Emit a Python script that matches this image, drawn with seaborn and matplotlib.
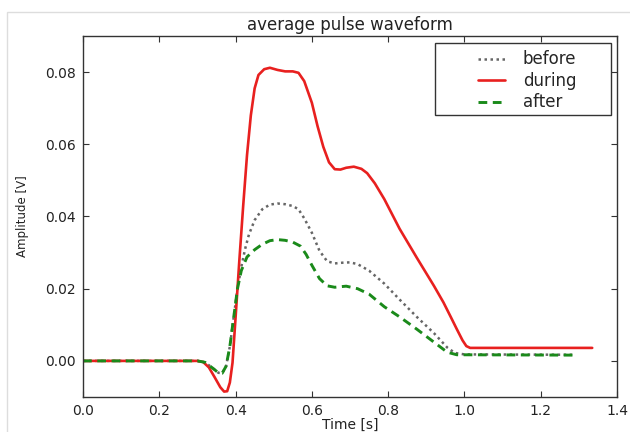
import matplotlib
matplotlib.use("Agg")
import matplotlib.pyplot as plt
from matplotlib.patches import Rectangle
import seaborn as sns

# === DATA ===
t_before = [0.00, 0.30, 0.32, 0.34, 0.355, 0.365, 0.375, 0.385, 0.395, 0.405,
            0.415, 0.425, 0.435, 0.45, 0.47, 0.49, 0.51, 0.53, 0.55, 0.565,
            0.58, 0.60, 0.62, 0.64, 0.66, 0.68, 0.70, 0.72, 0.75, 0.79,
            0.83, 0.875, 0.92, 0.955, 0.975, 1.00, 1.285]
amp_before = [0.0, 0.0, -0.0004, -0.0020, -0.0033, -0.0034, -0.0015, 0.0040, 0.0120, 0.0200,
              0.0260, 0.0310, 0.0350, 0.0390, 0.0420, 0.0433, 0.0436, 0.0434, 0.0429, 0.0420,
              0.0395, 0.0355, 0.0305, 0.0276, 0.0270, 0.0272, 0.0273, 0.0268, 0.0250, 0.0214,
              0.0170, 0.0122, 0.0077, 0.0037, 0.0022, 0.0018, 0.0017]

t_during = [0.00, 0.30, 0.315, 0.33, 0.345, 0.36, 0.37, 0.378, 0.385, 0.392,
            0.40, 0.41, 0.42, 0.43, 0.44, 0.45, 0.46, 0.475, 0.49, 0.51,
            0.53, 0.55, 0.565, 0.58, 0.60, 0.615, 0.63, 0.645, 0.66, 0.675,
            0.69, 0.71, 0.73, 0.745, 0.765, 0.79, 0.83, 0.875, 0.92, 0.945,
            0.965, 0.98, 0.995, 1.005, 1.015, 1.335]
amp_during = [0.0, 0.0, -0.0003, -0.0018, -0.0045, -0.0073, -0.0085, -0.0084, -0.0060, -0.0005,
              0.0120, 0.0280, 0.0430, 0.0570, 0.0680, 0.0755, 0.0792, 0.0808, 0.0812, 0.0806,
              0.0802, 0.0802, 0.0798, 0.0775, 0.0715, 0.0650, 0.0593, 0.0550, 0.0531, 0.0530,
              0.0535, 0.0538, 0.0532, 0.0520, 0.0492, 0.0448, 0.0366, 0.0286, 0.0208, 0.0162,
              0.0120, 0.0088, 0.0057, 0.0041, 0.0036, 0.0036]

t_after = [0.00, 0.30, 0.32, 0.34, 0.355, 0.365, 0.375, 0.385, 0.395, 0.405,
           0.415, 0.43, 0.45, 0.47, 0.49, 0.51, 0.53, 0.55, 0.57, 0.585,
           0.60, 0.62, 0.64, 0.66, 0.69, 0.72, 0.75, 0.79, 0.83, 0.875,
           0.92, 0.955, 0.98, 1.285]
amp_after = [0.0, 0.0, -0.0004, -0.0020, -0.0033, -0.0034, -0.0015, 0.0040, 0.0120, 0.0200,
             0.0250, 0.0288, 0.0308, 0.0323, 0.0333, 0.0336, 0.0334, 0.0329, 0.0318, 0.0295,
             0.0265, 0.0228, 0.0208, 0.0204, 0.0207, 0.0200, 0.0185, 0.0150, 0.0122, 0.0088,
             0.0052, 0.0024, 0.0017, 0.0016]

x_ticks = [0.0, 0.2, 0.4, 0.6, 0.8, 1.0, 1.2, 1.4]
y_ticks = [0.00, 0.02, 0.04, 0.06, 0.08]

# === STYLE ===
sns.set_theme(style="white")
plt.rcParams["font.family"] = ["DejaVu Sans"]
plt.rcParams["axes.edgecolor"] = "#333333"
plt.rcParams["axes.linewidth"] = 1.0

fig = plt.figure(figsize=(6.3, 4.32), dpi=100)
ax = fig.add_axes([83 / 630, 1 - 397 / 432, 534 / 630, 361 / 432])

sns.lineplot(x=t_before, y=amp_before, ax=ax, color="0.4", linestyle=(0, (1, 1.4)), lw=1.8)
sns.lineplot(x=t_during, y=amp_during, ax=ax, color="#e8201f", lw=1.9)
sns.lineplot(x=t_after, y=amp_after, ax=ax, color="#1a8a1a", linestyle=(0, (3.0, 1.9)), lw=2.1)

ax.set_xlim(0, 1.4)
ax.set_ylim(-0.01, 0.09)
ax.set_xticks(x_ticks)
ax.set_xticklabels([f"{v:.1f}" for v in x_ticks])
ax.set_yticks(y_ticks)
ax.set_yticklabels([f"{v:.2f}" for v in y_ticks])
ax.tick_params(direction="in", length=4, width=0.8, colors="#333333",
               top=True, right=True, bottom=True, left=True, labelsize=10, pad=5)
for lab in ax.get_xticklabels() + ax.get_yticklabels():
    lab.set_color("#222222")

ax.set_title("average pulse waveform", fontsize=12, pad=4, color="#222222")
ax.set_xlabel("Time [s]", fontsize=10, color="#222222")
ax.xaxis.set_label_coords(0.5, -0.058)
ax.set_ylabel("Amplitude [V]", fontsize=8.5, color="#222222")
ax.yaxis.set_label_coords(-0.101, 0.5)

# legend: box drawn as a patch, entries as a frameless legend
ax.add_patch(Rectangle((0.659, 0.781), 0.330, 0.200, transform=ax.transAxes,
                       fc="white", ec="#333333", lw=1.0, zorder=4))
lines = ax.get_lines()
leg = ax.legend(lines[:3], ["before", "during", "after"], loc="upper left",
                bbox_to_anchor=(0.7247, 0.983), frameon=False, fontsize=12,
                handlelength=1.6, handletextpad=1.08, labelspacing=0.21, borderpad=0)
leg.set_zorder(5)

# faint screenshot frame
fig.add_artist(Rectangle((7 / 630, -0.1), 1.2, 1 - 12 / 432 + 0.1, transform=fig.transFigure,
                         fill=False, ec="#dddddd", lw=1.0))

fig.savefig("out.png", dpi=100)
